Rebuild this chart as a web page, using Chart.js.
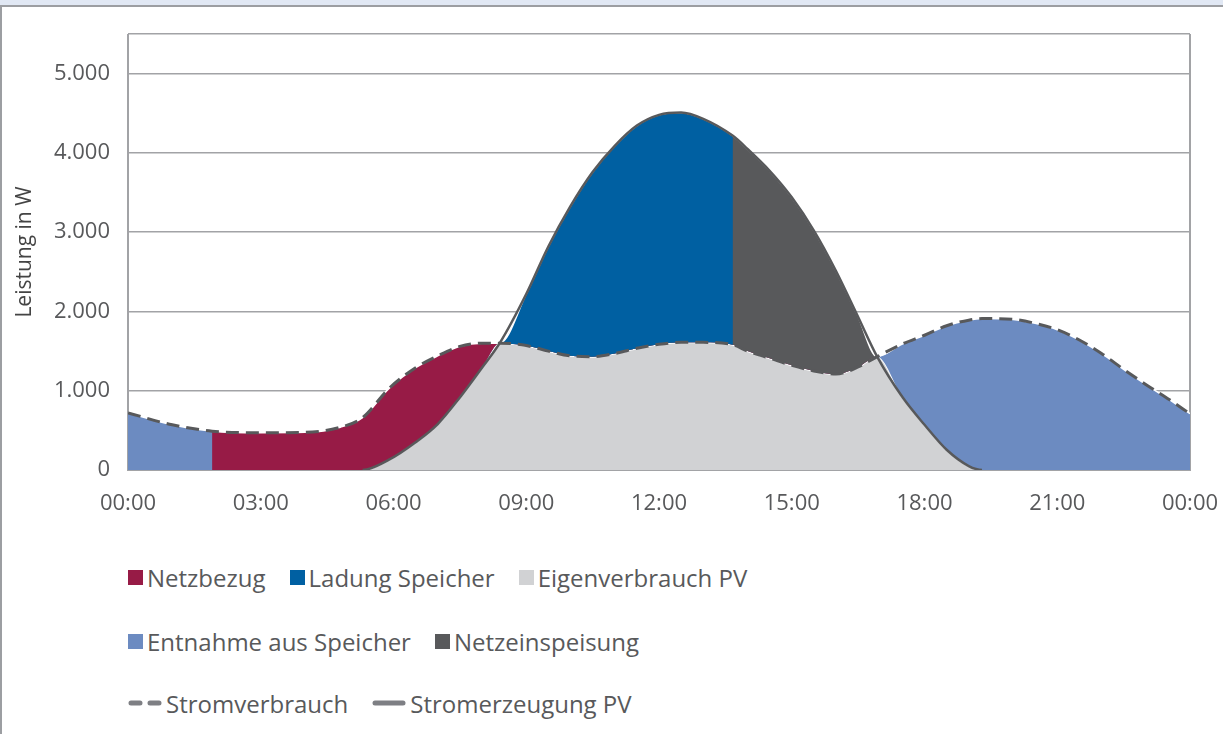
<!DOCTYPE html>
<html lang="de">
<head>
<meta charset="utf-8">
<title>Leistung im Tagesverlauf</title>
<script src="https://cdn.jsdelivr.net/npm/chart.js@4.4.1/dist/chart.umd.min.js"></script>
<style>
    html, body { margin: 0; padding: 0; background: #fff; }
    body { width: 1223px; height: 734px; position: relative; overflow: hidden; font-family: 'Open Sans', sans-serif; }
    .kopf { position: absolute; left: 0; top: 0; width: 1223px; height: 5px; background: #e1e8f4; border-bottom: 2px solid #9c9ea2; }
    .rand { position: absolute; left: 0; top: 7px; width: 2px; height: 727px; background: #9c9ea2; }
    .diagramm { position: absolute; left: 2px; top: 6px; width: 1221px; height: 520px; }
    .zeile { position: absolute; left: 128px; display: flex; align-items: center; height: 32px; font-size: 24px; color: #58595b; white-space: nowrap; }
    .eintrag { display: flex; align-items: center; margin-right: 24px; }
    .kasten { width: 15px; height: 15px; margin-right: 4px; }
    .eintrag svg { margin-right: 4px; }
</style>
</head>
<body>
<div class="kopf"></div>
<div class="rand"></div>
<div class="diagramm"><canvas id="leistungChart"></canvas></div>
<div id="legende"></div>

<script>
// Uhrzeit in Stunden
const zeiten = [0, 1, 1.9, 3, 4, 4.8, 5.3, 5.9, 6.5, 7, 7.5, 8, 8.4, 9, 9.5, 10, 10.5, 11, 11.5, 12,
    12.5, 13, 13.67, 14, 14.5, 15, 15.5, 16, 16.5, 16.93, 17.5, 18, 18.5, 19, 19.3, 20, 20.5, 21,
    21.5, 22, 22.5, 23, 23.5, 24];

// Stromverbrauch in W
const verbrauch = [720, 570, 490, 470, 475, 540, 660, 1030, 1290, 1440, 1560, 1600, 1600, 1570, 1500, 1440, 1430, 1470, 1535, 1585,
    1610, 1610, 1580, 1500, 1410, 1320, 1250, 1210, 1300, 1430, 1590, 1700, 1820, 1890, 1910, 1900, 1850, 1770,
    1640, 1470, 1270, 1080, 900, 710];

// Stromerzeugung PV in W
const erzeugung = [0, 0, 0, 0, 0, 0, 0, 130, 350, 580, 915, 1290, 1600, 2220, 2820, 3330, 3760, 4090, 4345, 4480,
    4510, 4430, 4215, 4050, 3775, 3440, 3020, 2510, 1930, 1430, 920, 570, 255, 50, 0, 0, 0, 0,
    0, 0, 0, 0, 0, 0];

// Wechsel zwischen den Flächen (Stunden): Netzbezug ab, Ladung ab, Einspeisung ab, Entnahme ab
const grenzen = [1.9, 8.4, 13.67, 16.93];

const yWerte = [0, 1000, 2000, 3000, 4000, 5000, 5500];
const stundenLabels = ['00:00', '03:00', '06:00', '09:00', '12:00', '15:00', '18:00', '21:00', '00:00'];

const FARBEN = {
    'Netzbezug': '#971b46',
    'Ladung Speicher': '#0060a2',
    'Eigenverbrauch PV': '#d1d2d4',
    'Entnahme aus Speicher': '#6c8bc1',
    'Netzeinspeisung': '#58595b'
};
const LINIE = '#58595b';
const RASTER = '#a2a3a6';
const SCHRIFT = "'Open Sans', sans-serif";
const LEER = 'rgba(0,0,0,0)';

function punkte(werte) {
    return zeiten.map((x, i) => ({ x: x, y: werte[i] }));
}

function tausender(v) {
    return String(v).replace(/\B(?=(\d{3})+(?!\d))/g, '.');
}

const unten = verbrauch.map((v, i) => Math.min(v, erzeugung[i]));
const oben = verbrauch.map((v, i) => Math.max(v, erzeugung[i]));

// Flächen übereinander gelegt, damit keine Nahtlinien entstehen
const schichten = [
    { name: 'Entnahme aus Speicher', von: 0, bis: 24 },
    { name: 'Netzbezug', von: grenzen[0], bis: grenzen[3] },
    { name: 'Netzeinspeisung', von: grenzen[1], bis: grenzen[3] },
    { name: 'Ladung Speicher', von: grenzen[1], bis: grenzen[2] }
];

const schichtDatasets = schichten.map((s, i) => ({
    label: s.name,
    data: punkte(oben),
    backgroundColor: FARBEN[s.name],
    borderColor: '#fff',
    borderWidth: i === schichten.length - 1 ? 1.5 : 0,
    fill: 2,
    order: 5 - i,
    segment: {
        backgroundColor: c => (c.p0.parsed.x >= s.von - 1e-9 && c.p1.parsed.x <= s.bis + 1e-9) ? FARBEN[s.name] : LEER
    }
}));

const ctx = document.getElementById('leistungChart').getContext('2d');
new Chart(ctx, {
    type: 'line',
    data: {
        datasets: [
            {
                label: 'Stromverbrauch',
                data: punkte(verbrauch),
                borderColor: LINIE,
                borderWidth: 3,
                borderDash: [13, 7],
                fill: false,
                order: 0
            },
            {
                label: 'Stromerzeugung PV',
                data: punkte(erzeugung),
                borderColor: LINIE,
                borderWidth: 2.5,
                fill: false,
                order: 0,
                segment: { borderColor: c => (c.p0.parsed.y === 0 && c.p1.parsed.y === 0) ? LEER : undefined }
            },
            {
                label: 'Eigenverbrauch PV',
                data: punkte(unten),
                backgroundColor: FARBEN['Eigenverbrauch PV'],
                borderColor: '#fff',
                borderWidth: 2,
                fill: 'origin',
                order: 6
            },
            ...schichtDatasets
        ]
    },
    options: {
        responsive: true,
        maintainAspectRatio: false,
        animation: false,
        cubicInterpolationMode: 'monotone',
        elements: { point: { radius: 0 } },
        layout: { padding: { left: 10, top: 28, right: 33, bottom: 16 } },
        plugins: {
            legend: { display: false },
            tooltip: { enabled: false }
        },
        scales: {
            x: {
                type: 'linear',
                min: 0,
                max: 24,
                z: 1,
                ticks: {
                    stepSize: 3,
                    autoSkip: false,
                    maxRotation: 0,
                    padding: 21,
                    color: '#58595b',
                    font: { family: SCHRIFT, size: 22 },
                    callback: (v, i) => stundenLabels[i]
                },
                grid: {
                    drawTicks: false,
                    lineWidth: 2,
                    color: c => (c.tick && (c.tick.value === 0 || c.tick.value === 24)) ? RASTER : LEER
                },
                border: { color: RASTER, width: 2 },
                afterFit: s => { s.height = 40; s.paddingLeft = 0; s.paddingRight = 0; }
            },
            y: {
                min: 0,
                max: 5500,
                afterBuildTicks: s => { s.ticks = yWerte.map(v => ({ value: v })); },
                ticks: {
                    padding: 18,
                    color: '#58595b',
                    font: { family: SCHRIFT, size: 22 },
                    callback: v => v > 5000 ? '' : tausender(v)
                },
                grid: { drawTicks: false, lineWidth: 1.5, color: RASTER },
                border: { display: false },
                title: {
                    display: true,
                    text: 'Leistung in W',
                    color: '#444',
                    font: { family: SCHRIFT, size: 21 },
                    padding: { top: 0, bottom: 0 }
                },
                afterFit: s => { s.width = 116; s.paddingTop = 0; s.paddingBottom = 0; }
            }
        }
    }
});

// Legende in drei Zeilen
const legendeZeilen = [
    { top: 561, eintraege: ['Netzbezug', 'Ladung Speicher', 'Eigenverbrauch PV'] },
    { top: 625, eintraege: ['Entnahme aus Speicher', 'Netzeinspeisung'] },
    { top: 687, eintraege: ['Stromverbrauch', 'Stromerzeugung PV'] }
];
const legende = document.getElementById('legende');
legendeZeilen.forEach(z => {
    const zeile = document.createElement('div');
    zeile.className = 'zeile';
    zeile.style.top = z.top + 'px';
    z.eintraege.forEach(name => {
        const e = document.createElement('div');
        e.className = 'eintrag';
        let symbol;
        if (name === 'Stromverbrauch') {
            symbol = '<svg width="34" height="8"><line x1="3" y1="4" x2="31" y2="4" stroke="#7e7f84" stroke-width="5" stroke-linecap="round" stroke-dasharray="9 10"/></svg>';
        } else if (name === 'Stromerzeugung PV') {
            symbol = '<svg width="34" height="8"><line x1="3" y1="4" x2="31" y2="4" stroke="#7e7f84" stroke-width="5" stroke-linecap="round"/></svg>';
        } else {
            symbol = '<span class="kasten" style="background:' + FARBEN[name] + '"></span>';
        }
        e.innerHTML = symbol + '<span>' + name + '</span>';
        zeile.appendChild(e);
    });
    legende.appendChild(zeile);
});
</script>
</body>
</html>
